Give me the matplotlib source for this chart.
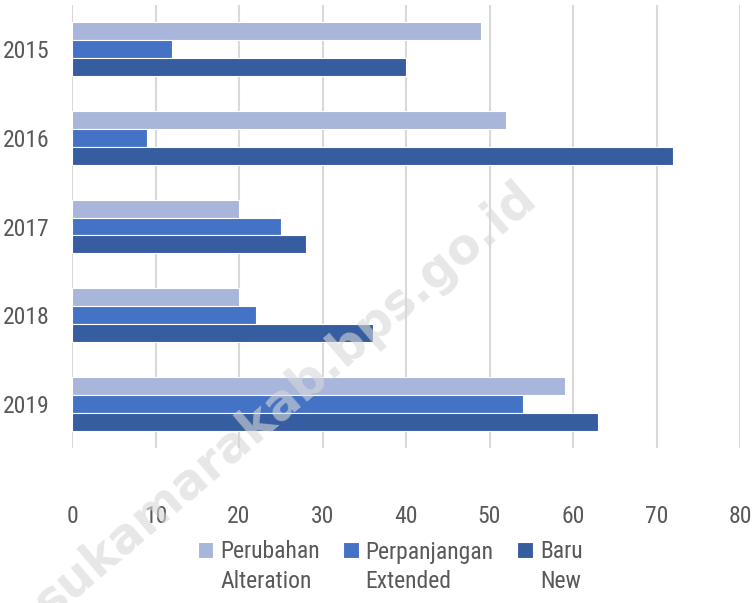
import os
import matplotlib
matplotlib.use("Agg")
import numpy as np
import matplotlib.pyplot as plt
from matplotlib import font_manager

years = ['2015', '2016', '2017', '2018', '2019']
perubahan = [49, 52, 20, 20, 59]
perpanjangan = [12, 9, 25, 22, 54]
baru = [40, 72, 28, 36, 63]

labels_id = ['Perubahan', 'Perpanjangan', 'Baru']
labels_en = ['Alteration', 'Extended', 'New']
colors = ['#a9b6db', '#4472c4', '#365d9f']
x_ticks = list(range(0, 81, 10))


def find_narrow_font():
    files = font_manager.findSystemFonts()
    wanted = ['liberationsansnarrow-regular', 'robotocondensed-regular',
              'opensans_condensed-regular', 'opensanscondensed-regular',
              'dejavusanscondensed.ttf']
    for w in wanted:
        for f in files:
            if w in os.path.basename(f).lower():
                return f
    return None


narrow = find_narrow_font()
if narrow:
    fp = font_manager.FontProperties(fname=narrow)
    size = 17
else:
    fp = font_manager.FontProperties(family='DejaVu Sans', stretch='condensed')
    size = 14
fp.set_size(size)
txt = '#595959'

fig = plt.figure(figsize=(7.54, 6.03), dpi=100)
ax = fig.add_axes([72 / 754, 1 - 448 / 603, 668 / 754, 443 / 603])

y = np.arange(len(years))
h = 0.202
for i, vals in enumerate([perubahan, perpanjangan, baru]):
    ax.barh(y + (i - 1) * h, vals, height=h, color=colors[i],
            edgecolor='white', linewidth=0.8, label=labels_id[i], zorder=3)

ax.set_xlim(0, 80)
ax.set_ylim(len(years) - 0.5, -0.5)
ax.set_xticks(x_ticks)
ax.set_yticks(y)
ax.set_yticklabels(years)
ax.tick_params(axis='x', length=0, pad=41, colors=txt)
ax.tick_params(axis='y', length=0, pad=16, colors=txt)
for lab in ax.get_xticklabels() + ax.get_yticklabels():
    lab.set_fontproperties(fp)
ax.grid(axis='x', color='#d9d9d9', linewidth=1.5, zorder=0)
for s in ax.spines.values():
    s.set_visible(False)

leg = fig.legend(loc='center', bbox_to_anchor=(390 / 754, 1 - 552 / 603), ncol=3,
                 frameon=False, prop=fp, handlelength=0.65, handleheight=0.65,
                 handletextpad=0.3, columnspacing=1.0, labelcolor=txt,
                 borderpad=0, borderaxespad=0)

# second line of each legend entry (English), under the Indonesian text
fig.canvas.draw()
inv = fig.transFigure.inverted()
for t, en in zip(leg.get_texts(), labels_en):
    bb = t.get_window_extent()
    x0, _ = inv.transform((bb.x0, bb.y0))
    fig.text(x0, 1 - 582 / 603, en, fontproperties=fp, color=txt,
             ha='left', va='center')

# watermark
fig.text(285 / 754, 1 - 400 / 603, 'sukamarakab.bps.go.id', rotation=40.5,
         ha='center', va='center', fontsize=35, fontweight='bold',
         family='DejaVu Sans', color='#d8d8d8', alpha=0.6, zorder=10)

fig.savefig('out.png', dpi=100)
